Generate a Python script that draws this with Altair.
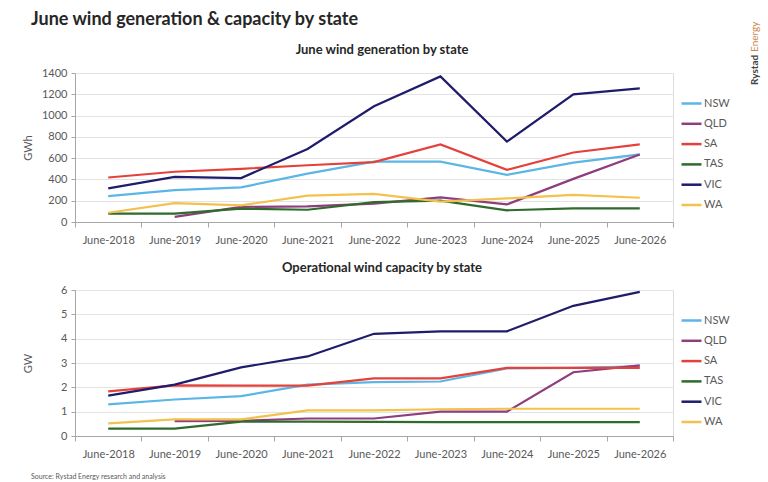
import altair as alt
import pandas as pd

periods = ["June-2018", "June-2019", "June-2020", "June-2021", "June-2022",
           "June-2023", "June-2024", "June-2025", "June-2026"]
states = ["NSW", "QLD", "SA", "TAS", "VIC", "WA"]
state_colors = ["#5BB6E6", "#8E3D7E", "#E5413B", "#2F6B2A", "#1F1C6B", "#F2C14E"]

# June wind generation (GWh)
gen_nsw = [244, 300, 325, 455, 568, 568, 443, 558, 635]
gen_qld = [None, 48, 142, 147, 172, 232, 165, 405, 635]
gen_sa = [418, 472, 500, 533, 563, 728, 490, 653, 730]
gen_tas = [78, 78, 125, 115, 187, 200, 110, 128, 128]
gen_vic = [316, 424, 413, 686, 1088, 1368, 755, 1200, 1255]
gen_wa = [87, 178, 156, 248, 265, 192, 222, 255, 228]

# Operational wind capacity (GW)
cap_nsw = [1.30, 1.50, 1.64, 2.11, 2.21, 2.24, 2.78, 2.80, 2.86]
cap_qld = [None, 0.61, 0.62, 0.72, 0.72, 1.00, 1.00, 2.62, 2.90]
cap_sa = [1.83, 2.08, 2.07, 2.07, 2.37, 2.37, 2.80, 2.80, 2.80]
cap_tas = [0.30, 0.30, 0.59, 0.59, 0.58, 0.57, 0.57, 0.57, 0.57]
cap_vic = [1.66, 2.11, 2.82, 3.27, 4.20, 4.30, 4.30, 5.35, 5.92]
cap_wa = [0.52, 0.68, 0.68, 1.05, 1.05, 1.10, 1.12, 1.12, 1.12]

gen_ticks = [0, 200, 400, 600, 800, 1000, 1200, 1400]
cap_ticks = [0, 1, 2, 3, 4, 5, 6]

main_title = "June wind generation & capacity by state"
gen_title = "June wind generation by state"
cap_title = "Operational wind capacity by state"
source_note = "Source: Rystad Energy research and analysis"

FONT = "Lato"
TXT = "#595959"
DARK = "#262626"


def to_long(series):
    rows = []
    for st, vals in zip(states, series):
        for p, v in zip(periods, vals):
            if v is not None:
                rows.append({"period": p, "state": st, "value": v})
    return pd.DataFrame(rows)


gen_df = to_long([gen_nsw, gen_qld, gen_sa, gen_tas, gen_vic, gen_wa])
cap_df = to_long([cap_nsw, cap_qld, cap_sa, cap_tas, cap_vic, cap_wa])
one = pd.DataFrame({"t": ["x"]})


def note(text, x, y, size, weight="normal", color=DARK, align="left", angle=0):
    kw = dict(text=text, align=align, baseline="middle", font=FONT,
              fontSize=size, fontWeight=weight, color=color)
    if angle:
        kw["angle"] = angle
    return alt.Chart(one).mark_text(**kw).encode(x=alt.value(x), y=alt.value(y))


def panel(df, ytitle, ticks, height, extra_layers):
    x = alt.X(
        "period:O",
        sort=periods,
        scale=alt.Scale(type="band", paddingInner=0, paddingOuter=0),
        bandPosition=0.5,
        axis=alt.Axis(
            title=None, labelAngle=0, tickBand="extent", tickSize=5,
            tickColor="#A6A6A6", domainColor="#A6A6A6", labelColor=TXT,
            labelFontSize=11, labelFont=FONT, labelPadding=7, grid=False,
        ),
    )
    y = alt.Y(
        "value:Q",
        scale=alt.Scale(domain=[ticks[0], ticks[-1]], nice=False, zero=True),
        axis=alt.Axis(
            title=ytitle, values=ticks, format="d", tickSize=4,
            tickColor="#A6A6A6", domainColor="#A6A6A6", gridColor="#E3E3E3",
            labelColor=TXT, labelFontSize=11, labelFont=FONT, titleFont=FONT,
            titleFontSize=11, titleFontWeight="normal", titleColor=TXT,
            titlePadding=14, minExtent=28, maxExtent=28, labelPadding=4,
        ),
    )
    color = alt.Color(
        "state:N",
        scale=alt.Scale(domain=states, range=state_colors),
        legend=alt.Legend(
            title=None, orient="none", legendX=605, legendY=19,
            symbolType="stroke", symbolSize=400, symbolStrokeWidth=2.5,
            labelFont=FONT, labelFontSize=11, labelColor=TXT,
            labelOffset=1, rowPadding=3.3,
        ),
    )
    lines = alt.Chart(df).mark_line(strokeWidth=2.2).encode(x=x, y=y, color=color)
    return alt.layer(lines, *extra_layers).properties(width=598, height=height)


top = panel(gen_df, "GWh", gen_ticks, 149, [
    note(main_title, -44, -53, 18, weight="bold"),
    note(gen_title, 307, -23, 13, weight="bold", align="center"),
    note("Rystad", 680, 12, 10, weight="bold", color="#444444", angle=270),
    note("Energy", 680, -21, 10, color="#C8884A", angle=270),
])
bottom = panel(cap_df, "GW", cap_ticks, 146, [
    note(cap_title, 307, -22, 13, weight="bold", align="center"),
    note(source_note, -44, 187, 7, color=TXT),
])

chart = alt.vconcat(top, bottom, spacing=15).resolve_legend(
    color="independent"
).properties(
    padding={"left": 21, "top": 10, "right": 0, "bottom": 0},
).configure_view(strokeWidth=0).configure(background="white")

chart.save("out.html", embed_options={"renderer": "svg", "actions": False})
